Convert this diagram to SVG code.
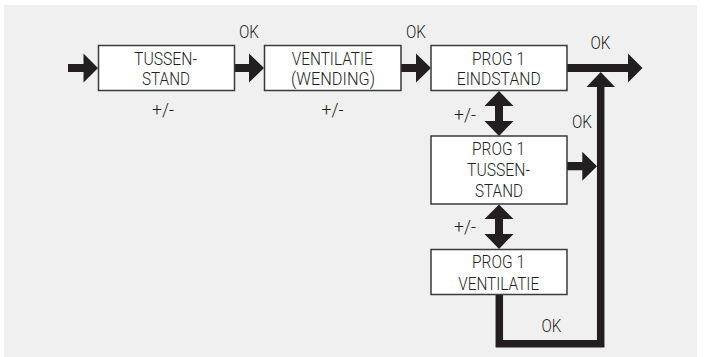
<svg xmlns="http://www.w3.org/2000/svg" width="704" height="357" viewBox="0 0 704 357">
<style>
.bg{fill:#f0f0f0}
.box{fill:#ffffff;stroke:#3a3a3a;stroke-width:1.5}
.t{font-family:Roboto,"Liberation Sans",Arial,sans-serif;font-weight:300;font-size:17.5px;fill:#231f20;text-anchor:middle}
.a{fill:#231f20}
.ln{fill:none;stroke:#231f20;stroke-width:7.5;stroke-linejoin:miter}
</style>
<rect class="bg" x="4" y="5" width="693" height="352"/>
<g id="connectors">
<path class="a" d="M68,64 H83.5 V53.5 L98,68 L83.5,82.5 V72 H68 Z"/>
<path class="a" d="M234,64 H249 V53.5 L264,68 L249,82.5 V72 H234 Z"/>
<path class="a" d="M401,64 H416 V53.5 L431,68 L416,82.5 V72 H401 Z"/>
<path class="a" d="M567,64 H628 V53.5 L642.5,68 L628,82.5 V72 H567 Z"/>
<path class="ln" d="M499.3,295 V343.7 H600.7 V86"/>
<path class="a" d="M586.5,87 L600.7,72 L615,87 Z"/>
<path class="a" d="M567,162 H582.3 V151.7 L597,166.2 L582.3,180.7 V170.3 H567 Z"/>
<path class="a" d="M499,91 L513.5,106 H503 V121 H513.5 L499,136 L484.5,121 H495 V106 H484.5 Z"/>
<path class="a" d="M499,204.5 L513.5,219 H503 V234 H513.5 L499,249 L484.5,234 H495 V219 H484.5 Z"/>
<text class="t" x="249" y="37.5" textLength="20" lengthAdjust="spacingAndGlyphs">OK</text>
<text class="t" x="416" y="37.5" textLength="20" lengthAdjust="spacingAndGlyphs">OK</text>
<text class="t" x="600.5" y="48.5" textLength="20" lengthAdjust="spacingAndGlyphs">OK</text>
<text class="t" x="582" y="128" textLength="20" lengthAdjust="spacingAndGlyphs">OK</text>
<text class="t" x="551.5" y="331.5" textLength="20" lengthAdjust="spacingAndGlyphs">OK</text>
<text class="t" x="163" y="116" textLength="22" lengthAdjust="spacingAndGlyphs">+/-</text>
<text class="t" x="332.5" y="116" textLength="22" lengthAdjust="spacingAndGlyphs">+/-</text>
<text class="t" x="465" y="120.5" textLength="22" lengthAdjust="spacingAndGlyphs">+/-</text>
<text class="t" x="465" y="232.5" textLength="22" lengthAdjust="spacingAndGlyphs">+/-</text>
</g>
<g id="node-tussenstand">
<rect class="box" x="98.5" y="45.5" width="136" height="45"/>
<text class="t" x="165.5" y="64.5" textLength="63" lengthAdjust="spacingAndGlyphs">TUSSEN-</text>
<text class="t" x="166" y="85" textLength="48" lengthAdjust="spacingAndGlyphs">STAND</text>
</g>
<g id="node-ventilatie">
<rect class="box" x="264.5" y="45.5" width="136.5" height="45"/>
<text class="t" x="332.3" y="64.5" textLength="81" lengthAdjust="spacingAndGlyphs">VENTILATIE</text>
<text class="t" x="333" y="85" textLength="84" lengthAdjust="spacingAndGlyphs">(WENDING)</text>
</g>
<g id="node-prog1-eindstand">
<rect class="box" x="431" y="45.5" width="136" height="45"/>
<text class="t" x="498.5" y="64.5" textLength="53" lengthAdjust="spacingAndGlyphs">PROG 1</text>
<text class="t" x="498.7" y="85" textLength="84" lengthAdjust="spacingAndGlyphs">EINDSTAND</text>
</g>
<g id="node-prog1-tussenstand">
<rect class="box" x="431" y="136" width="136" height="68"/>
<text class="t" x="498.5" y="155" textLength="53" lengthAdjust="spacingAndGlyphs">PROG 1</text>
<text class="t" x="498.5" y="176" textLength="63" lengthAdjust="spacingAndGlyphs">TUSSEN-</text>
<text class="t" x="499" y="197" textLength="48" lengthAdjust="spacingAndGlyphs">STAND</text>
</g>
<g id="node-prog1-ventilatie">
<rect class="box" x="431" y="249.5" width="136" height="45"/>
<text class="t" x="498.5" y="267.5" textLength="53" lengthAdjust="spacingAndGlyphs">PROG 1</text>
<text class="t" x="498.7" y="290" textLength="81" lengthAdjust="spacingAndGlyphs">VENTILATIE</text>
</g>
</svg>
